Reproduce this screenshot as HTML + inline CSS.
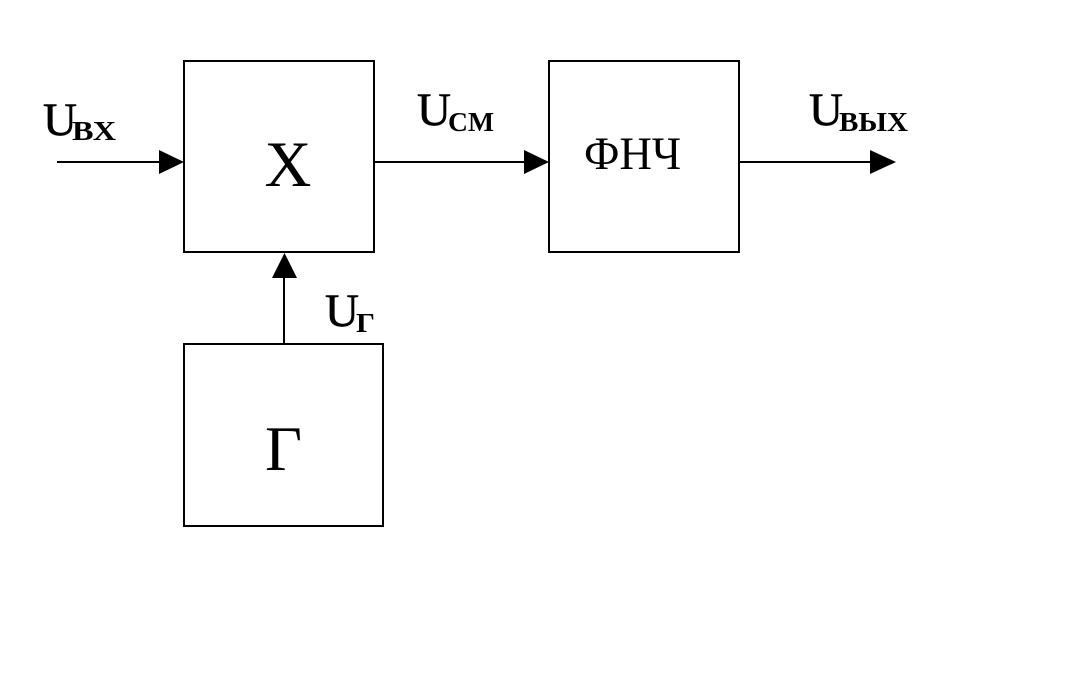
<!DOCTYPE html>
<html>
<head>
<meta charset="utf-8">
<style>
html,body{margin:0;padding:0;background:#fff;}
svg{display:block;}
text{font-family:"Liberation Serif",serif;fill:#000;}
.u{font-size:47px;stroke:#000;stroke-width:.6px;}
.s{font-size:27px;font-weight:bold;}
</style>
</head>
<body>
<svg width="1075" height="681" viewBox="0 0 1075 681" xmlns="http://www.w3.org/2000/svg">
<rect width="1075" height="681" fill="#fff"/>
<g fill="none" stroke="#000" stroke-width="2">
<rect x="184" y="61" width="190" height="191"/>
<rect x="549" y="61" width="190" height="191"/>
<rect x="184" y="344" width="199" height="182"/>
</g>
<g stroke="#000" stroke-width="2" fill="none">
<line x1="57" y1="162" x2="160" y2="162"/>
<line x1="375" y1="162" x2="525" y2="162"/>
<line x1="740" y1="162" x2="872" y2="162"/>
<line x1="284" y1="344" x2="284" y2="276"/>
</g>
<g fill="#000">
<polygon points="159,150 184,162 159,174"/>
<polygon points="524,150 549,162 524,174"/>
<polygon points="870,150 896,162 870,174"/>
<polygon points="272,278 284.5,253 297,278"/>
</g>
<text x="264.5" y="186" font-size="65">Х</text>
<text x="584" y="169" font-size="47" textLength="97" lengthAdjust="spacingAndGlyphs">ФНЧ</text>
<text x="265" y="470" font-size="64">Г</text>
<text class="u" x="43" y="135">U</text>
<text class="s" x="72" y="140" textLength="44" lengthAdjust="spacingAndGlyphs">ВХ</text>
<text class="u" x="417" y="125">U</text>
<text class="s" x="448" y="131" textLength="46" lengthAdjust="spacingAndGlyphs">СМ</text>
<text class="u" x="809" y="125">U</text>
<text class="s" x="839" y="131" textLength="69" lengthAdjust="spacingAndGlyphs">ВЫХ</text>
<text class="u" x="325" y="326">U</text>
<text class="s" x="356" y="332" textLength="19" lengthAdjust="spacingAndGlyphs">Г</text>
</svg>
</body>
</html>
